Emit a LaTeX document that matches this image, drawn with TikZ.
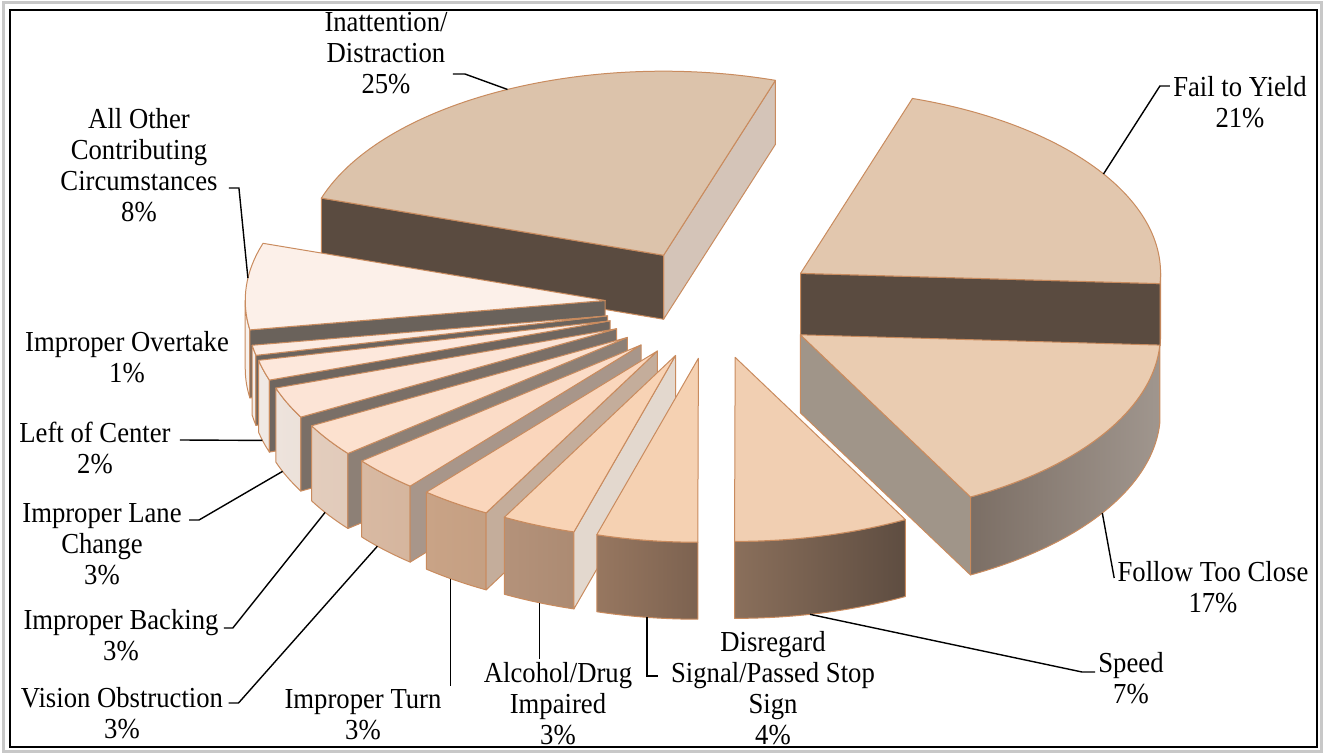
\documentclass[tikz,border=0pt]{standalone}
\usepackage{fontspec}
\setmainfont{Liberation Serif}[FakeStretch=0.92]
\usepackage{xcolor}
\usetikzlibrary{calc}

\definecolor{pieedge}{HTML}{C98B5E}
\definecolor{framegray}{HTML}{C8C8C8}
\definecolor{darkcut}{HTML}{5A4B40}
\definecolor{inattop}{HTML}{DCC3AB}
\definecolor{inatside}{HTML}{D4C4B8}
\definecolor{failtop}{HTML}{E2C7AE}
\definecolor{followtop}{HTML}{EACCB1}
\definecolor{followside}{HTML}{A09589}
\definecolor{followrimA}{HTML}{5B4B40}
\definecolor{followrimB}{HTML}{5F5045}
\definecolor{followrimC}{HTML}{A0968E}
\definecolor{speedtop}{HTML}{F1CFB2}
\definecolor{speedrimA}{HTML}{8A6F5B}
\definecolor{speedrimB}{HTML}{5E4D41}
\definecolor{distop}{HTML}{F5D1B2}
\definecolor{disrimA}{HTML}{977760}
\definecolor{disrimB}{HTML}{7C6250}
\definecolor{alctop}{HTML}{F8D3B5}
\definecolor{alcrimA}{HTML}{B4927A}
\definecolor{alcrimB}{HTML}{A08068}
\definecolor{alccut}{HTML}{E3D8CE}
\definecolor{turntop}{HTML}{FAD6BC}
\definecolor{turnrimA}{HTML}{C9A386}
\definecolor{turnrimB}{HTML}{B89579}
\definecolor{turncut}{HTML}{C4AD9B}
\definecolor{visiontop}{HTML}{FBDCC7}
\definecolor{visionrimA}{HTML}{D8B9A2}
\definecolor{visionrimB}{HTML}{C8A48B}
\definecolor{visioncut}{HTML}{A8968A}
\definecolor{backtop}{HTML}{FCE1CF}
\definecolor{backrimA}{HTML}{E3CDBD}
\definecolor{backrimB}{HTML}{D2B6A2}
\definecolor{backcut}{HTML}{8D8076}
\definecolor{lanetop}{HTML}{FCE4D6}
\definecolor{lanerimA}{HTML}{EDE3DC}
\definecolor{lanerimB}{HTML}{DCCBBE}
\definecolor{lanecut}{HTML}{7A6F67}
\definecolor{lefttop}{HTML}{FDE8DC}
\definecolor{leftrimA}{HTML}{F0E9E4}
\definecolor{leftrimB}{HTML}{E2D8D0}
\definecolor{leftcut}{HTML}{6F665F}
\definecolor{overtop}{HTML}{FCEBE1}
\definecolor{overrimA}{HTML}{F2ECE8}
\definecolor{overrimB}{HTML}{E4DAD3}
\definecolor{overcut}{HTML}{6C645D}
\definecolor{othertop}{HTML}{FCF0E9}
\definecolor{otherrimA}{HTML}{F7F1ED}
\definecolor{otherrimB}{HTML}{E8DED7}
\definecolor{othercut}{HTML}{6A625B}

\newcommand{\lbl}{\fontsize{14.5}{15.5}\selectfont}

% top of a slice: apex, from, to, colour
\newcommand{\slicetop}[4]{%
  \draw[edge, fill=#4] (#1) -- ++(#2:180pt and 92pt)
    arc[start angle=#2, end angle=#3, x radius=180pt, y radius=92pt] -- cycle;}
% flat cut side: apex, angle, depth, colour
\newcommand{\slicecut}[4]{%
  \draw[edge, fill=#4] (#1) -- ++(#2:180pt and 92pt) -- ++(0pt,-#3)
    -- ++(#2+180:180pt and 92pt) -- cycle;}
% curved outer side: apex, from, to, depth, left colour, right colour
\newcommand{\slicerim}[6]{%
  \draw[edge, left color=#5, right color=#6] (#1) ++(#2:180pt and 92pt)
    arc[start angle=#2, end angle=#3, x radius=180pt, y radius=92pt]
    -- ++(0pt,-#4)
    arc[start angle=#3, end angle=#2, x radius=180pt, y radius=92pt] -- cycle;}

\begin{document}
\begin{tikzpicture}[
    x=0.5pt, y=-0.5pt,
    edge/.style={draw=pieedge, line width=0.5pt, line join=round},
    lab/.style={font=\lbl, align=center, inner sep=1.5pt},
    leader/.style={draw=black, line width=0.7pt},
]
\useasboundingbox (0,0) rectangle (1324,754);
% Frame
\draw[framegray, line width=1.5pt] (3,3) rectangle (1321,751);
\draw[black, line width=1pt] (10,10) rectangle (1317,747);

% Pie centre and slice apexes (exploded)
\coordinate (C) at (712,304);
\coordinate (inatA) at ($(C)+(116.9:53.5pt and 27.34pt)$);
\coordinate (failA) at ($(C)+(34.1:53.5pt and 27.34pt)$);
\coordinate (otherA) at ($(C)+(176.3:53.5pt and 27.34pt)$);
\coordinate (overA) at ($(C)+(192.5:53.5pt and 27.34pt)$);
\coordinate (leftA) at ($(C)+(197.9:53.5pt and 27.34pt)$);
\coordinate (laneA) at ($(C)+(206.9:53.5pt and 27.34pt)$);
\coordinate (backA) at ($(C)+(217.7:53.5pt and 27.34pt)$);
\coordinate (visionA) at ($(C)+(228.5:53.5pt and 27.34pt)$);
\coordinate (turnA) at ($(C)+(239.3:53.5pt and 27.34pt)$);
\coordinate (alcA) at ($(C)+(250.1:53.5pt and 27.34pt)$);
\coordinate (disA) at ($(C)+(262.7:53.5pt and 27.34pt)$);
\coordinate (speedA) at ($(C)+(282.5:53.5pt and 27.34pt)$);
\coordinate (followA) at ($(C)+(325.7:53.5pt and 27.34pt)$);

% Slices, back to front
\slicecut{inatA}{71.9}{32pt}{inatside}
\slicecut{inatA}{161.9}{32pt}{darkcut}
\slicetop{inatA}{71.9}{161.9}{inattop}

\slicerim{failA}{-3.2}{0}{31pt}{darkcut}{darkcut}
\slicecut{failA}{-3.2}{31pt}{darkcut}
\slicetop{failA}{-3.2}{71.9}{failtop}

\slicerim{otherA}{180}{189.2}{34pt}{otherrimA}{otherrimB}
\slicecut{otherA}{189.2}{34pt}{othercut}
\slicetop{otherA}{161.9}{189.2}{othertop}

\slicerim{overA}{189.2}{192.4}{35pt}{overrimA}{overrimB}
\slicecut{overA}{192.4}{35pt}{overcut}
\slicetop{overA}{189.2}{192.4}{overtop}

\slicerim{leftA}{192.4}{198.8}{36pt}{leftrimA}{leftrimB}
\slicecut{leftA}{198.8}{36pt}{leftcut}
\slicetop{leftA}{192.4}{198.8}{lefttop}

\slicerim{laneA}{198.8}{208.7}{37pt}{lanerimA}{lanerimB}
\slicecut{laneA}{208.7}{37pt}{lanecut}
\slicetop{laneA}{198.8}{208.7}{lanetop}

\slicerim{backA}{208.7}{219.1}{37.5pt}{backrimA}{backrimB}
\slicecut{backA}{219.1}{37.5pt}{backcut}
\slicetop{backA}{208.7}{219.1}{backtop}

\slicerim{visionA}{219.1}{230.1}{38pt}{visionrimA}{visionrimB}
\slicecut{visionA}{230.1}{38pt}{visioncut}
\slicetop{visionA}{219.1}{230.1}{visiontop}

\slicerim{turnA}{230.1}{241.6}{38.5pt}{turnrimA}{turnrimB}
\slicecut{turnA}{241.6}{38.5pt}{turncut}
\slicetop{turnA}{230.1}{241.6}{turntop}

\slicerim{alcA}{241.6}{253.6}{38.5pt}{alcrimA}{alcrimB}
\slicecut{alcA}{253.6}{38.5pt}{alccut}
\slicetop{alcA}{241.6}{253.6}{alctop}

\slicerim{disA}{253.6}{269.9}{38.5pt}{disrimA}{disrimB}
\slicetop{disA}{253.6}{269.9}{distop}

\slicecut{followA}{298.2}{39pt}{followside}
\draw[edge, left color=followrimA, middle color=followrimB, right color=followrimC]
  (followA) ++(298.2:180pt and 92pt)
  arc[start angle=298.2, end angle=356.8, x radius=180pt, y radius=92pt]
  -- ++(0pt,-39pt)
  arc[start angle=356.8, end angle=298.2, x radius=180pt, y radius=92pt] -- cycle;
\slicetop{followA}{298.2}{356.8}{followtop}

\slicerim{speedA}{269.9}{298.2}{38.5pt}{speedrimA}{speedrimB}
\slicetop{speedA}{269.9}{298.2}{speedtop}

% Leader tips on the slices
\coordinate (inatT) at ($(inatA)+(115.7:180pt and 92pt)$);
\coordinate (otherT) at ($(otherA)+(173:180pt and 92pt)$);
\coordinate (failT) at ($(failA)+(32.7:180pt and 92pt)$);
\coordinate (followT) at ($(followA)+(-33:180pt and 92pt)+(0pt,-39pt)$);
\coordinate (speedT) at ($(speedA)+(282:180pt and 92pt)+(0pt,-38.5pt)$);
\coordinate (disT) at ($(disA)+(261.8:180pt and 92pt)+(0pt,-38.5pt)$);
\coordinate (alcT) at ($(alcA)+(247.8:180pt and 92pt)+(0pt,-38.5pt)$);
\coordinate (turnT) at ($(turnA)+(234.9:180pt and 92pt)+(0pt,-38.5pt)$);
\coordinate (visionT) at ($(visionA)+(222.9:180pt and 92pt)+(0pt,-38pt)$);
\coordinate (backT) at ($(backA)+(212.9:180pt and 92pt)+(0pt,-37.5pt)$);
\coordinate (laneT) at ($(laneA)+(201.9:180pt and 92pt)+(0pt,-37pt)$);
\coordinate (leftT) at ($(leftA)+(195:180pt and 92pt)+(0pt,-36pt)$);

% Labels
\node[lab] (inatL) at (386,53) {Inattention/\\Distraction\\25\%};
\node[lab] (otherL) at (139,165) {All Other\\Contributing\\Circumstances\\8\%};
\node[lab] (failL) at (1240,102) {Fail to Yield\\21\%};
\node[lab] (overL) at (127,357) {Improper Overtake\\1\%};
\node[lab] (leftL) at (95,448) {Left of Center\\2\%};
\node[lab] (laneL) at (102,544) {Improper Lane\\Change\\3\%};
\node[lab] (backL) at (121,635) {Improper Backing\\3\%};
\node[lab] (visionL) at (122,713) {Vision Obstruction\\3\%};
\node[lab] (turnL) at (363,715) {Improper Turn\\3\%};
\node[lab] (alcL) at (558,704) {Alcohol/Drug\\Impaired\\3\%};
\node[lab] (disL) at (773,688) {Disregard\\Signal/Passed Stop\\Sign\\4\%};
\node[lab] (speedL) at (1131,678) {Speed\\7\%};
\node[lab] (followL) at (1213,587) {Follow Too Close\\17\%};

% Leader lines
\draw[leader] ($(inatL.east)+(2,21)$) -- ++(12,0) -- (inatT);
\draw[leader] ($(otherL.east)+(8,23)$) -- ++(10,0) -- (otherT);
\draw[leader] ($(failL.west)+(0,-16)$) -- ++(-10,0) -- (failT);
\draw[leader] ($(followL.west)+(0,-9)$) -- (followT);
\draw[leader] ($(speedL.west)+(0,-6)$) -- ++(-13,0) -- (speedT);
\draw[leader] ($(disL.west)+(-10,-12)$) -| (disT);
\draw[leader] (alcT) -- (alcT |- alcL.north);
\draw[leader] (turnT) -- (turnT |- turnL.north);
\draw[leader] ($(visionL.east)+(2,-10)$) -- ++(10,0) -- (visionT);
\draw[leader] ($(backL.east)+(2,-7)$) -- ++(9,0) -- (backT);
\draw[leader] ($(laneL.east)+(4,-24)$) -- ++(10,0) -- (laneT);
\draw[leader] ($(leftL.east)+(6,-8)$) -- (leftT);
\end{tikzpicture}
\end{document}
